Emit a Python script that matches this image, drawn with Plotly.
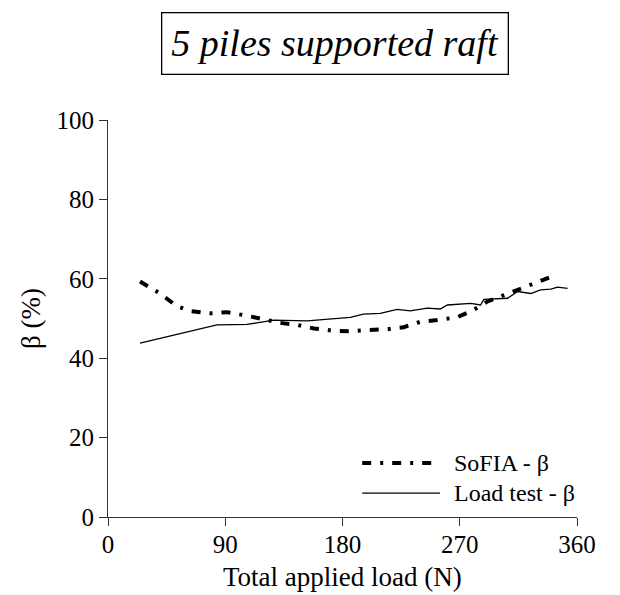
import plotly.graph_objects as go

# Data
load_test_x = [24.6, 83.6, 106.7, 127, 152.8, 186, 196, 209, 222, 232, 245, 255, 260.5,
               278.5, 286, 288.5, 306.7, 314.4, 324.6, 332, 340, 345, 352.8]
load_test_y = [43.8, 48.4, 48.5, 49.6, 49.4, 50.3, 51.1, 51.3, 52.3, 51.9, 52.6, 52.4, 53.4,
               53.8, 53.4, 54.8, 55.1, 56.8, 56.3, 57.2, 57.4, 57.9, 57.6]

sofia_x = [24.6, 40, 52.8, 63, 78.5, 91.3, 106.7, 118.2, 132.3, 145, 158, 173.3, 186, 199,
           214.4, 227, 240, 252.8, 268, 279.8, 291.3, 304, 317, 330, 345]
sofia_y = [59.3, 56.3, 53.1, 51.9, 51.3, 51.6, 50.7, 49.9, 48.9, 48.4, 47.5, 46.9, 46.8, 47.1,
           47.3, 47.8, 49.2, 49.6, 50.3, 52.0, 54.3, 55.9, 57.6, 59.3, 61.1]

x_ticks = [0, 90, 180, 270, 360]
y_ticks = [0, 20, 40, 60, 80, 100]

title_text = "5 piles supported raft"
x_title = "Total applied load (N)"
y_title = "β (%)"
legend_labels = ["SoFIA - β", "Load test - β"]

FONT = "Liberation Serif, Times New Roman, serif"
DASH = "9px,9px,3px,9px"

fig = go.Figure()
fig.add_trace(go.Scatter(x=sofia_x, y=sofia_y, mode="lines", name=legend_labels[0],
                         line=dict(color="black", width=4, dash=DASH), showlegend=False))
fig.add_trace(go.Scatter(x=load_test_x, y=load_test_y, mode="lines", name=legend_labels[1],
                         line=dict(color="black", width=1.3), showlegend=False))

# Manual legend (line samples + labels)
leg_items = [(legend_labels[0], dict(color="black", width=4, dash=DASH), 0.136),
             (legend_labels[1], dict(color="black", width=1.3), 0.060)]
for label, ln, yy in leg_items:
    fig.add_shape(type="line", xref="paper", yref="paper", x0=0.542, x1=0.708, y0=yy, y1=yy,
                  line=ln)
    fig.add_annotation(xref="paper", yref="paper", x=0.733, y=yy, text=label, showarrow=False,
                       xanchor="left", yanchor="middle", font=dict(family=FONT, size=24, color="black"))

fig.add_annotation(xref="paper", yref="paper", x=0.485, y=1.0, yshift=77,
                   text="<i>" + title_text + "</i>", showarrow=False,
                   font=dict(family=FONT, size=38, color="black"),
                   bordercolor="black", borderwidth=1.3, borderpad=9, bgcolor="white",
                   xanchor="center", yanchor="middle")

# x-axis title
fig.add_annotation(xref="paper", yref="paper", x=0.5, y=0, yshift=-60, text=x_title,
                   showarrow=False, xanchor="center", yanchor="middle",
                   font=dict(family=FONT, size=27, color="black"))

fig.update_xaxes(range=[0, 360], tickvals=x_ticks, ticks="outside", ticklen=8, tickwidth=1,
                 tickcolor="#333", showline=True, linecolor="#333", linewidth=1,
                 showgrid=False, zeroline=False, automargin=False, ticklabelstandoff=-3,
                 tickfont=dict(family=FONT, size=25, color="black"))
fig.update_yaxes(range=[0, 100], tickvals=y_ticks, ticks="outside", ticklen=8, tickwidth=1,
                 tickcolor="#333", showline=True, linecolor="#333", linewidth=1,
                 showgrid=False, zeroline=False, automargin=False,
                 tickfont=dict(family=FONT, size=25, color="black"),
                 title=dict(text=y_title, font=dict(family=FONT, size=27, color="black"),
                            standoff=8))

# the page body has an 8px margin, so shrink the figure to fit the 620x595 window
fig.update_layout(width=612, height=587, margin=dict(l=100, r=43, t=112, b=78),
                  plot_bgcolor="white", paper_bgcolor="white")

fig.write_html("out.html")
